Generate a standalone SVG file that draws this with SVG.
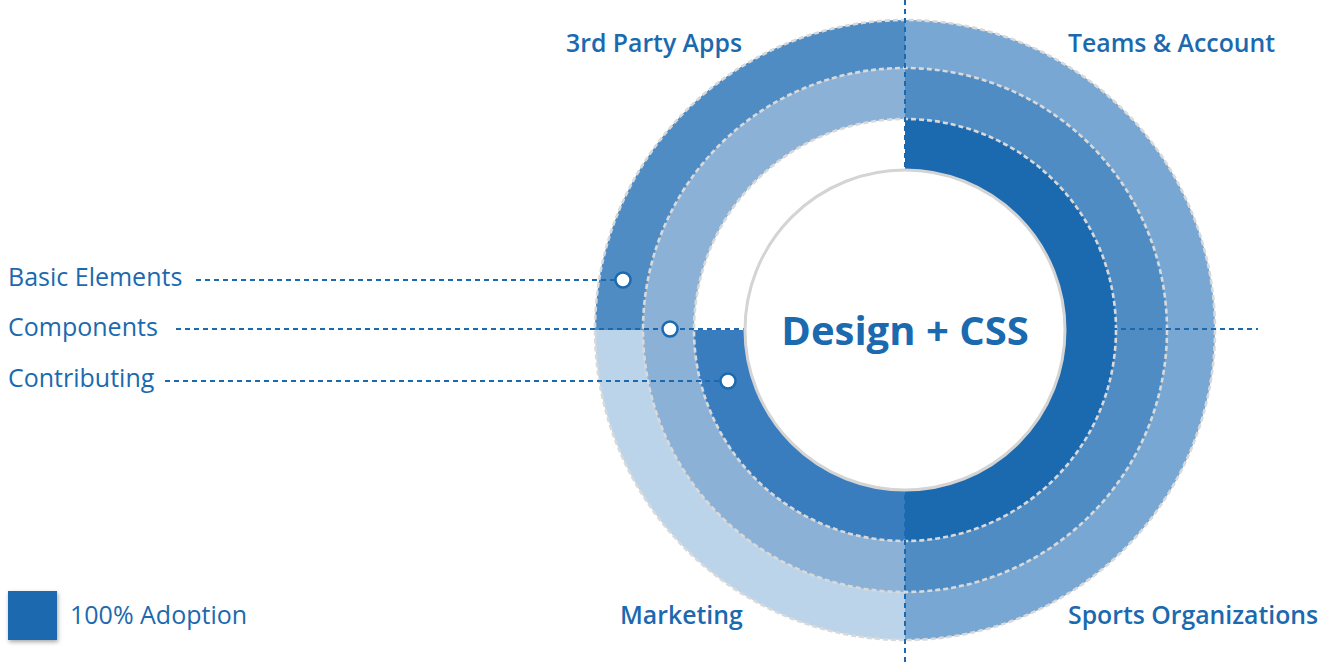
<svg xmlns="http://www.w3.org/2000/svg" width="1334" height="662" viewBox="0 0 1334 662">
<style>
.lbl{font-family:"Open Sans","Liberation Sans",sans-serif;fill:#1b69af}
.q{font-size:24.8px;font-weight:600}
.s{font-size:25px;font-weight:400}
.ring{fill:none;stroke:#d9d9d9;stroke-width:2.6;stroke-dasharray:5 3}
.lead{fill:none;stroke:#1b69af;stroke-width:2;stroke-dasharray:5 4}
.dot{fill:#fff;stroke:#1b69af;stroke-width:2.5}
</style>
<defs>
<filter id="sh" x="-20%" y="-20%" width="150%" height="150%">
<feDropShadow dx="1" dy="2" stdDeviation="2" flood-color="#000" flood-opacity="0.35"/>
</filter>
</defs>
<g id="quadrant-tl">
<path d="M905 330 L595 330 A310 310 0 0 1 905 20 Z" fill="#4f8cc3"/>
<path d="M905 330 L643 330 A262 262 0 0 1 905 68 Z" fill="#8bb1d6"/>
<path d="M905 330 L694 330 A211 211 0 0 1 905 119 Z" fill="#ffffff"/>
</g>
<g id="quadrant-tr">
<path d="M905 330 L905 20 A310 310 0 0 1 1215 330 Z" fill="#77a7d2"/>
<path d="M905 330 L905 68 A262 262 0 0 1 1167 330 Z" fill="#4f8cc3"/>
<path d="M905 330 L905 119 A211 211 0 0 1 1116 330 Z" fill="#1b69af"/>
</g>
<g id="quadrant-br">
<path d="M905 330 L1215 330 A310 310 0 0 1 905 640 Z" fill="#77a7d2"/>
<path d="M905 330 L1167 330 A262 262 0 0 1 905 592 Z" fill="#4f8cc3"/>
<path d="M905 330 L1116 330 A211 211 0 0 1 905 541 Z" fill="#1b69af"/>
</g>
<g id="quadrant-bl">
<path d="M905 330 L905 640 A310 310 0 0 1 595 330 Z" fill="#bcd4ea"/>
<path d="M905 330 L905 592 A262 262 0 0 1 643 330 Z" fill="#8bb1d6"/>
<path d="M905 330 L905 541 A211 211 0 0 1 694 330 Z" fill="#3a7dbe"/>
</g>
<g id="ring-borders">
<circle class="ring" cx="905" cy="330" r="310"/>
<circle class="ring" cx="905" cy="330" r="262"/>
<circle class="ring" cx="905" cy="330" r="211"/>
</g>
<g id="connectors">
<line class="lead" x1="905" y1="0" x2="905" y2="662"/>
<line class="lead" x1="176" y1="329" x2="1258" y2="329"/>
<line class="lead" x1="196" y1="280" x2="623" y2="280"/>
<line class="lead" x1="165" y1="381" x2="728" y2="381"/>
</g>
<g id="center">
<circle cx="905" cy="330" r="160" fill="#fff" stroke="#d4d4d4" stroke-width="3"/>
<text class="lbl" x="905" y="345" text-anchor="middle" font-size="40" font-weight="700">Design + CSS</text>
</g>
<g id="markers">
<circle class="dot" cx="623" cy="280" r="7.5"/>
<circle class="dot" cx="670" cy="329" r="7.5"/>
<circle class="dot" cx="728" cy="381" r="7.5"/>
</g>
<g id="quadrant-labels">
<text class="lbl q" x="566" y="52">3rd Party Apps</text>
<text class="lbl q" x="1068" y="52">Teams &amp; Account</text>
<text class="lbl q" x="620" y="624">Marketing</text>
<text class="lbl q" x="1068" y="624">Sports Organizations</text>
</g>
<g id="ring-labels">
<text class="lbl s" x="8" y="286">Basic Elements</text>
<text class="lbl s" x="8" y="336">Components</text>
<text class="lbl s" x="8" y="387">Contributing</text>
</g>
<g id="legend">
<rect x="8" y="591" width="49" height="49" fill="#1b69af" filter="url(#sh)"/>
<text class="lbl s" x="70" y="624">100% Adoption</text>
</g>
</svg>
